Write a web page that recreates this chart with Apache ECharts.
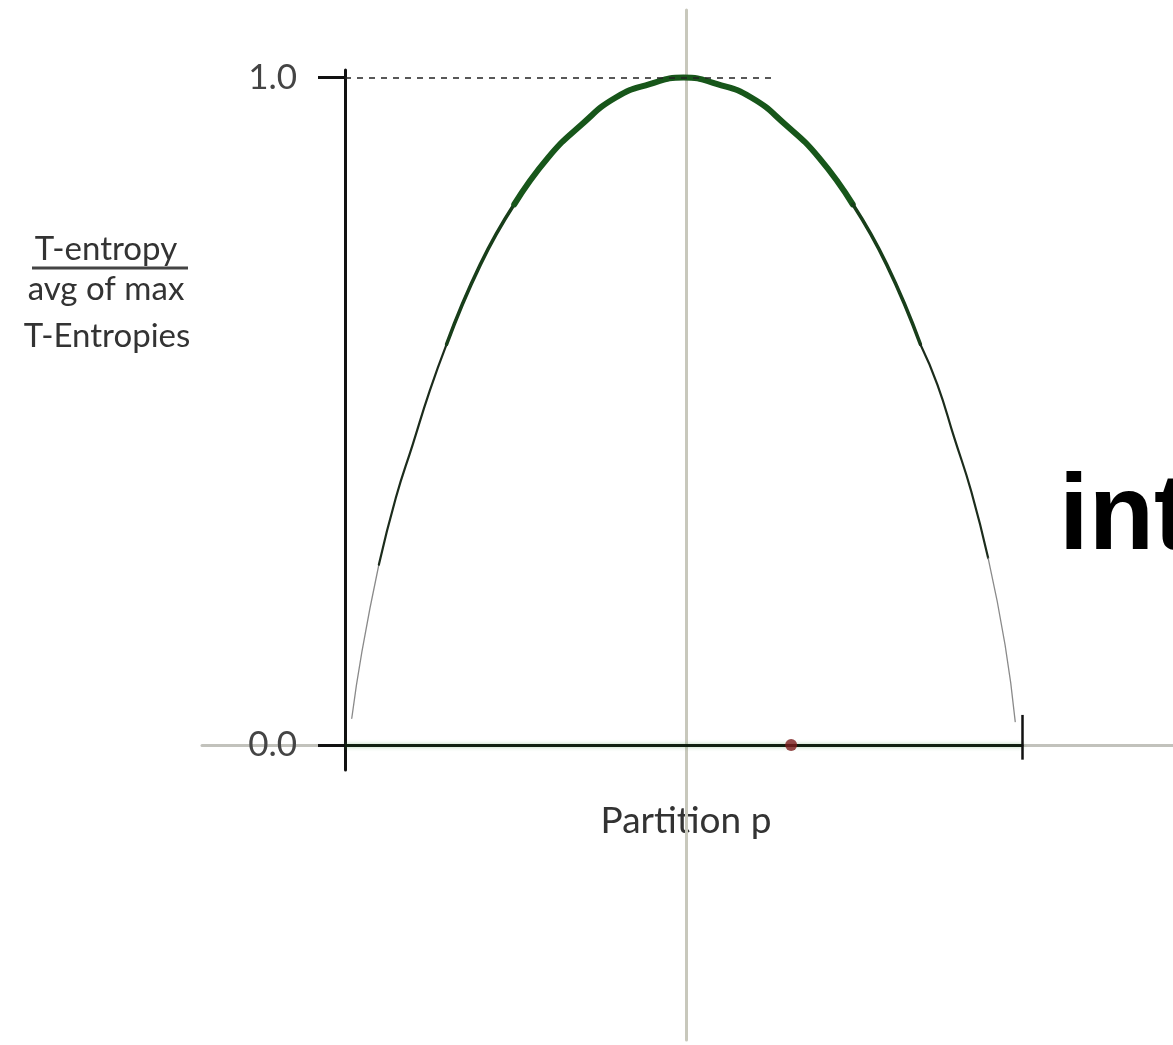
<!DOCTYPE html>
<html>
<head>
<meta charset="utf-8">
<script src="https://cdn.jsdelivr.net/npm/echarts@6/dist/echarts.min.js"></script>
<style>
  html, body { margin: 0; padding: 0; background: #fff; }
  #graph { width: 1173px; height: 1045px; }
</style>
</head>
<body>
<div id="graph"></div>
<script>
// values
const pValues = [0.01, 0.025, 0.05, 0.075, 0.1, 0.125, 0.15, 0.2, 0.25, 0.3, 0.35, 0.4, 0.45, 0.5,
                 0.55, 0.6, 0.65, 0.7, 0.75, 0.8, 0.85, 0.875, 0.9, 0.925, 0.95, 0.975, 0.99];
const entropyRatio = [0.04, 0.14, 0.27, 0.37, 0.45, 0.53, 0.60, 0.72, 0.81, 0.88, 0.93, 0.97, 0.99, 1.0,
                      0.99, 0.97, 0.93, 0.88, 0.81, 0.72, 0.60, 0.54, 0.46, 0.38, 0.28, 0.15, 0.035];
const yTicks = [0, 1];
const dashEnd = 0.635;
const dotPoint = [0.659, 0];

const chartDom = document.getElementById('graph');
const myChart = echarts.init(chartDom);

const points = pValues.map((p, i) => [p, entropyRatio[i]]);

// the curve is thin at the ends, thick near the top
function segment(from, to, width, color) {
    return {
        type: 'line',
        xAxisIndex: 1,
        yAxisIndex: 1,
        data: points.slice(from, to + 1),
        smooth: 0.5,
        showSymbol: false,
        silent: true,
        z: 3,
        lineStyle: { width: width, color: color, cap: 'round' }
    };
}

const font = 'Lato, "Open Sans", sans-serif';

const option = {
    animation: false,
    backgroundColor: '#ffffff',
    grid: [
        { left: 202, right: 0, top: 10, bottom: 5 },
        { left: 345, right: 151, top: 70, bottom: 275 }
    ],
    xAxis: [
        {
            // grey crosshair through the middle
            type: 'value', gridIndex: 0, min: -0.7149, max: 0.7193, z: 0,
            axisLine: { onZero: true, lineStyle: { color: '#c2c2bc', width: 3 } },
            axisTick: { show: false }, axisLabel: { show: false }, splitLine: { show: false }
        },
        {
            type: 'value', gridIndex: 1, min: 0, max: 1, z: 1,
            axisLine: { onZero: true, lineStyle: { color: '#0f1f0f', width: 3,
                shadowColor: 'rgba(70,150,70,0.45)', shadowBlur: 4 } },
            axisTick: { show: false }, axisLabel: { show: false }, splitLine: { show: false }
        }
    ],
    yAxis: [
        {
            type: 'value', gridIndex: 0, min: -0.4423, max: 1.1019, z: 0,
            axisLine: { onZero: true, lineStyle: { color: '#c8c8bc', width: 3 } },
            axisTick: { show: false }, axisLabel: { show: false }, splitLine: { show: false }
        },
        {
            type: 'value', gridIndex: 1, min: -0.0375, max: 1.0112, z: 1,
            axisLine: { show: true, onZero: true, lineStyle: { color: '#111', width: 3 } },
            axisTick: { show: true, customValues: yTicks, length: 27,
                lineStyle: { color: '#111', width: 3 } },
            axisLabel: {
                customValues: yTicks, margin: 48,
                formatter: v => v.toFixed(1),
                fontSize: 35, fontFamily: font, color: '#444'
            },
            splitLine: { show: false }
        }
    ],
    series: [
        segment(0, 2, 1.3, '#8a8a8a'),
        segment(2, 6, 2.2, '#1c2c1c'),
        segment(6, 8, 3.5, '#183e1a'),
        segment(8, 18, 6, '#17561a'),
        segment(18, 20, 3.5, '#183e1a'),
        segment(20, 24, 2.2, '#1c2c1c'),
        segment(24, 26, 1.3, '#8a8a8a'),
        {
            type: 'scatter',
            xAxisIndex: 1,
            yAxisIndex: 1,
            data: [dotPoint],
            symbolSize: 12,
            itemStyle: { color: '#7a1c1c' },
            z: 6,
            markLine: {
                symbol: 'none',
                silent: true,
                label: { show: false },
                data: [
                    [
                        { coord: [0, 1], lineStyle: { type: [6, 6], color: '#222', width: 1.5 } },
                        { coord: [dashEnd, 1] }
                    ],
                    [
                        { coord: [1, 0.045], lineStyle: { type: 'solid', color: '#111', width: 2.5 } },
                        { coord: [1, -0.022] }
                    ]
                ]
            }
        }
    ],
    graphic: [
        { type: 'text', x: 106, y: 249,
          style: { text: 'T-entropy', font: '33px ' + font, fill: '#333', align: 'center', verticalAlign: 'middle' } },
        { type: 'line', shape: { x1: 32, y1: 268, x2: 188, y2: 268 },
          style: { stroke: '#444', lineWidth: 3 } },
        { type: 'text', x: 106, y: 289,
          style: { text: 'avg of max', font: '33px ' + font, fill: '#333', align: 'center', verticalAlign: 'middle' } },
        { type: 'text', x: 107, y: 336,
          style: { text: 'T-Entropies', font: '33px ' + font, fill: '#333', align: 'center', verticalAlign: 'middle' } },
        { type: 'text', x: 686, y: 821,
          style: { text: 'Partition p', font: '37px ' + font, fill: '#333', align: 'center', verticalAlign: 'middle' } },
        { type: 'text', x: 1059, y: 519,
          style: { text: 'int', font: 'bold 107px "Liberation Sans", Arial, sans-serif', fill: '#000', align: 'left', verticalAlign: 'middle' } }
    ]
};

option && myChart.setOption(option);
</script>
</body>
</html>
